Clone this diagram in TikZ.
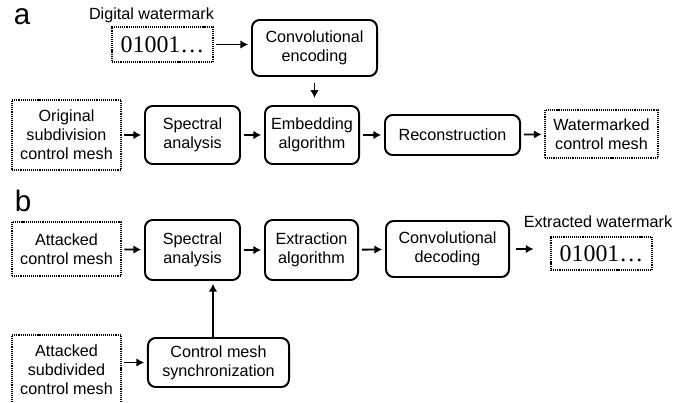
\documentclass[tikz,border=0pt]{standalone}
\usepackage{fontspec}
\setmainfont{Liberation Sans}
\newfontfamily\bitsfont{Liberation Serif}
\usetikzlibrary{arrows.meta}
\tikzset{
  stage/.style={draw,line width=1.4pt,rounded corners=5.5pt,align=center,inner sep=0pt},
  mesh/.style={draw,line width=0.8pt,dash pattern=on 0.8pt off 0.7pt,align=center,inner sep=0pt},
  bits/.style={mesh,font=\bitsfont\fontsize{17}{17}\selectfont},
  arr/.style={-{Latex[length=5.5pt,width=6pt]},line width=1.3pt,shorten <=2pt,shorten >=2pt},
  panel/.style={font=\fontsize{21}{21}\selectfont},
}
\begin{document}
\begin{tikzpicture}[x=0.025cm,y=-0.025cm,font=\fontsize{11.5}{13.5}\selectfont]
        \path[use as bounding box,clip] (0,0) rectangle (684,402);
        %% Embedding
        \node[panel] (la) at (22,17) {a};
        \node (dwtitle) at (151.5,15) {Digital watermark};
        \node[bits,minimum width=2.525cm,minimum height=0.875cm] (dw) at (162.5,44.5) {01001…};
        \node[stage,minimum width=3.125cm,minimum height=1.4cm] (enc) at (314.5,48) {Convolutional\\encoding};
        \node[mesh,minimum width=2.725cm,minimum height=1.75cm] (orig) at (66.5,135) {Original\\subdivision\\control mesh};
        \node[stage,minimum width=2.375cm,minimum height=1.45cm] (speca) at (192.5,135) {Spectral\\analysis};
        \node[stage,minimum width=2.35cm,minimum height=1.45cm] (embed) at (312,135) {Embedding\\algorithm};
        \node[stage,minimum width=3.375cm,minimum height=1cm] (recon) at (452.5,135) {Reconstruction};
        \node[mesh,minimum width=2.825cm,minimum height=1.2cm] (wmesh) at (601.5,134) {Watermarked\\control mesh};
        \draw[arr] (dw.east) -- (dw.east -| enc.west);
        \draw[arr,shorten <=4pt,shorten >=5pt] (enc) -- (enc.south |- embed.north);
        \draw[arr] (orig) -- (speca);
        \draw[arr] (speca) -- (embed);
        \draw[arr] (embed) -- (recon);
        \draw[arr] (recon) -- (wmesh);
        %% Extraction
        \node[panel] (lb) at (23,201) {b};
        \node[mesh,minimum width=2.725cm,minimum height=1.35cm] (att) at (66.5,249) {Attacked\\control mesh};
        \node[stage,minimum width=2.375cm,minimum height=1.5cm] (specb) at (192.5,250) {Spectral\\analysis};
        \node[stage,minimum width=2.325cm,minimum height=1.5cm] (extr) at (311.5,250) {Extraction\\algorithm};
        \node[stage,minimum width=3.075cm,minimum height=1.4cm] (dec) at (447.5,249) {Convolutional\\decoding};
        \node (extitle) at (598,222) {Extracted watermark};
        \node[bits,minimum width=2.525cm,minimum height=0.825cm] (ew) at (601.5,253.5) {01001…};
        \node[mesh,minimum width=2.725cm,minimum height=1.75cm] (subd) at (66.5,370) {Attacked\\subdivided\\control mesh};
        \node[stage,minimum width=3.525cm,minimum height=1.225cm] (sync) at (218.5,362.5) {Control mesh\\synchronization};
        \coordinate (up) at (213,338);
        \draw[arr] (att) -- (specb);
        \draw[arr] (specb) -- (extr);
        \draw[arr] (extr) -- (dec);
        \draw[arr,shorten <=4pt,shorten >=12pt] (dec.east) -- (dec.east -| ew.west);
        \draw[arr] (subd.east |- sync) -- (sync);
        \draw[arr,shorten <=0pt] (up) -- (up |- specb.south);
    \end{tikzpicture}
\end{document}
